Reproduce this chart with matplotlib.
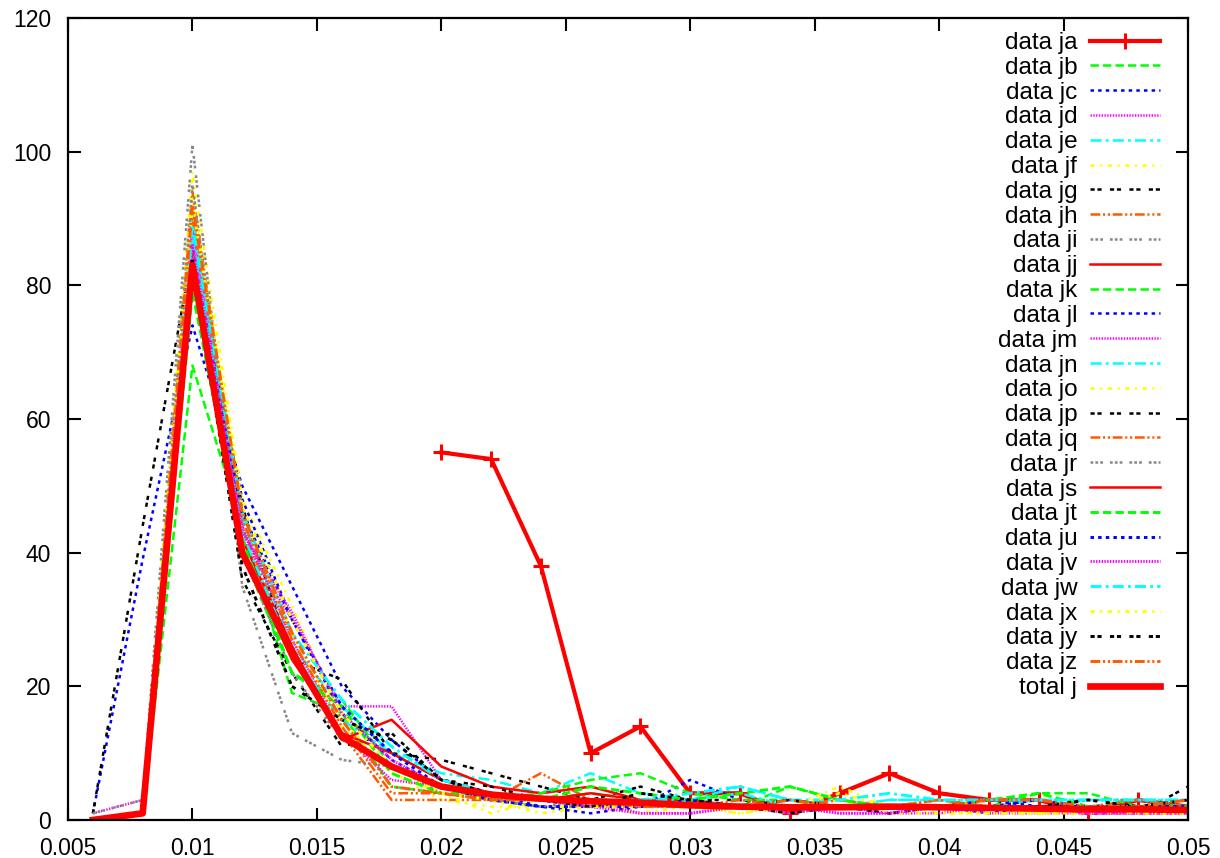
import numpy as np
import matplotlib
matplotlib.use("Agg")
import matplotlib.pyplot as plt
from matplotlib.ticker import FormatStrFormatter, MultipleLocator

plt.rcParams['font.family'] = ['Liberation Sans', 'DejaVu Sans']
plt.rcParams['lines.scale_dashes'] = False

nan = np.nan

# x positions (bin centres)
x = [0.006, 0.008, 0.010, 0.012, 0.014, 0.016, 0.018, 0.020, 0.022, 0.024, 0.026, 0.028,
     0.030, 0.032, 0.034, 0.036, 0.038, 0.040, 0.042, 0.044, 0.046, 0.048, 0.050]

# series values
ja = [nan, nan, nan, nan, nan, nan, nan, 55, 54, 38, 10, 14, 4, 4, 1, 4, 7, 4, 3, 3, 1, 3, 2]
jb = [nan, 1, 68, 44, 19, 16, 5, 4, 3, 3, 4, 3, 3, 2, 5, 3, 2, 2, 2, 2, 2, 2, 2]
jc = [1, 39, 74, 50, 35, 20, 12, 6, 4, 2, 2, 2, 6, 3, 2, 2, 1, 2, 1, 2, 1, 1, 1]
jd = [1, 3, 89, 42, 30, 17, 17, 6, 4, 3, 3, 1, 1, 2, 2, 1, 1, 2, 1, 1, 1, 2, 1]
je = [nan, 1, 91, 45, 26, 17, 10, 7, 6, 4, 7, 4, 3, 5, 3, 2, 3, 3, 2, 3, 2, 2, 3]
jf = [nan, 2, 97, 48, 32, 15, 7, 3, 2, 2, 2, 1, 2, 1, 2, 5, 2, 1, 1, 1, 1, 1, 1]
jg = [1, 44, 85, 47, 24, 21, 10, 9, 7, 5, 3, 5, 3, 3, 2, 2, 2, 2, 2, 2, 2, 1, 5]
jh = [nan, 1, 94, 44, 25, 13, 3, 3, 3, 7, 3, 2, 2, 2, 2, 2, 2, 3, 2, 2, 2, 2, 2]
ji = [1, 3, 101, 35, 13, 9, 8, 4, 3, 2, 2, 2, 2, 2, 1, 2, 2, 2, 2, 2, 2, 3, 2]
jj = [nan, 1, 86, 42, 26, 12, 15, 8, 5, 4, 5, 3, 3, 2, 2, 2, 2, 2, 2, 2, 2, 2, 2]
jk = [nan, 1, 80, 40, 22, 18, 8, 5, 3, 4, 6, 7, 4, 3, 3, 2, 2, 2, 2, 4, 4, 2, 2]
jl = [nan, 1, 84, 48, 30, 16, 9, 5, 3, 2, 1, 2, 2, 2, 3, 2, 2, 2, 2, 3, 2, 2, 2]
jm = [nan, 1, 88, 44, 27, 13, 6, 5, 4, 3, 2, 2, 2, 2, 1, 2, 1, 1, 2, 2, 1, 1, 1]
jn = [nan, 1, 87, 43, 25, 15, 10, 6, 4, 3, 3, 3, 3, 4, 2, 2, 3, 3, 3, 3, 3, 3, 3]
jo = [nan, 2, 93, 46, 28, 14, 7, 4, 1, 3, 2, 2, 2, 1, 2, 3, 1, 1, 1, 1, 1, 1, 1]
jp = [nan, 1, 83, 36, 22, 11, 13, 6, 5, 3, 2, 3, 2, 2, 1, 2, 1, 2, 2, 2, 2, 2, 2]
jq = [nan, 1, 90, 45, 27, 14, 4, 4, 3, 3, 3, 3, 2, 3, 2, 3, 2, 3, 2, 2, 2, 3, 2]
jr = [nan, 1, 95, 40, 22, 12, 8, 5, 3, 2, 3, 2, 2, 2, 2, 2, 2, 2, 2, 2, 3, 3, 2]
js = [nan, 1, 82, 40, 24, 13, 10, 6, 4, 3, 4, 3, 2, 2, 2, 2, 2, 2, 2, 2, 2, 2, 2]
jt = [nan, 1, 79, 42, 22, 17, 7, 4, 4, 3, 5, 4, 3, 4, 5, 3, 2, 2, 3, 4, 2, 2, 2]
ju = [nan, 1, 82, 46, 30, 17, 10, 5, 3, 2, 2, 2, 3, 2, 2, 2, 2, 2, 3, 2, 2, 2, 2]
jv = [nan, 1, 86, 43, 31, 16, 9, 5, 4, 3, 2, 1, 1, 2, 2, 1, 1, 2, 2, 2, 1, 1, 1]
jw = [nan, 1, 89, 46, 28, 18, 11, 6, 4, 3, 3, 3, 4, 5, 3, 3, 4, 3, 3, 3, 3, 3, 3]
jx = [nan, 2, 92, 47, 30, 16, 8, 4, 3, 1, 2, 2, 2, 2, 2, 4, 2, 2, 2, 1, 2, 1, 1]
jy = [nan, 1, 84, 38, 20, 15, 12, 6, 4, 3, 2, 4, 3, 2, 3, 2, 2, 2, 2, 2, 3, 2, 3]
jz = [nan, 1, 92, 46, 28, 15, 5, 4, 3, 3, 3, 2, 2, 2, 3, 2, 2, 2, 3, 3, 2, 2, 3]
total_j = [0, 1, 83, 40, 25, 12.5, 8, 5, 3.8, 3.2, 2.8, 2.6, 2.2, 2.0, 1.9, 1.9, 2.0,
           1.9, 1.8, 1.7, 1.6, 1.6, 1.5]

labels = ["data ja", "data jb", "data jc", "data jd", "data je", "data jf", "data jg",
          "data jh", "data ji", "data jj", "data jk", "data jl", "data jm", "data jn",
          "data jo", "data jp", "data jq", "data jr", "data js", "data jt", "data ju",
          "data jv", "data jw", "data jx", "data jy", "data jz", "total j"]
series = [ja, jb, jc, jd, je, jf, jg, jh, ji, jj, jk, jl, jm, jn, jo, jp, jq, jr, js,
          jt, ju, jv, jw, jx, jy, jz, total_j]

# gnuplot-like line types (colour, dash) cycling after "data ja"
colors = ["#00ff00", "#0000ff", "#ff00ff", "#00ffff", "#ffff00", "#000000", "#ff5a00",
          "#888888", "#ff0000"]
dashes = [(0, (6, 3)), (0, (2.5, 3)), (0, (1, 1)), (0, (8, 3, 2, 3)), (0, (3, 4, 1.5, 4)),
          (0, (3, 2, 3, 6)), (0, (7, 2, 1.5, 2, 1.5, 2)), (0, (2, 1.5, 2, 1.5, 2, 5)), "-"]

fig = plt.figure(figsize=(12.2, 8.58), dpi=100)
ax = fig.add_axes([68 / 1220, 38 / 858, 1120 / 1220, 802 / 858])

for i, (lab, y) in enumerate(zip(labels, series)):
    if lab == "data ja":
        ax.plot(x, y, color="#ff0000", lw=3, marker="+", ms=11, mew=2.2, label=lab)
    elif lab == "total j":
        ax.plot(x, y, color="#ff0000", lw=4.8, label=lab)
    else:
        k = (i - 1) % 9
        lw = 1.8 if i < 19 else 2.1
        ax.plot(x, y, color=colors[k], linestyle=dashes[k], lw=lw, label=lab)

ax.set_xlim(0.005, 0.05)
ax.set_ylim(0, 120)
ax.xaxis.set_major_locator(MultipleLocator(0.005))
ax.yaxis.set_major_locator(MultipleLocator(20))
ax.xaxis.set_major_formatter(FormatStrFormatter('%g'))
ax.tick_params(direction="in", length=9, width=1.5, top=True, right=True,
               labelsize=16.5)
ax.tick_params(axis="x", pad=12)
ax.tick_params(axis="y", pad=12)
for sp in ax.spines.values():
    sp.set_linewidth(1.6)

leg = ax.legend(loc="upper right", bbox_to_anchor=(1160 / 1220, 826 / 858),
                bbox_transform=fig.transFigure, frameon=False, markerfirst=False,
                fontsize=17.5, handlelength=2.9, handletextpad=0.5, labelspacing=0.115,
                borderpad=0, borderaxespad=0, numpoints=1)

fig.savefig("out.png", dpi=100)
